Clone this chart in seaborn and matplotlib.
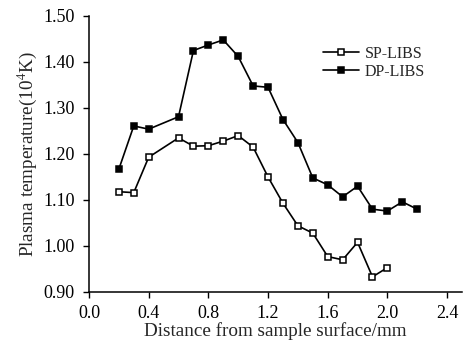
import matplotlib
matplotlib.use("Agg")
import matplotlib.pyplot as plt
import seaborn as sns
import pandas as pd

sp_x = [0.2, 0.3, 0.4, 0.6, 0.7, 0.8, 0.9, 1.0, 1.1, 1.2, 1.3, 1.4, 1.5, 1.6, 1.7, 1.8, 1.9, 2.0]
sp_y = [1.118, 1.116, 1.193, 1.235, 1.217, 1.218, 1.228, 1.240, 1.215, 1.150, 1.093, 1.044, 1.028, 0.977, 0.970, 1.008, 0.933, 0.953]
dp_x = [0.2, 0.3, 0.4, 0.6, 0.7, 0.8, 0.9, 1.0, 1.1, 1.2, 1.3, 1.4, 1.5, 1.6, 1.7, 1.8, 1.9, 2.0, 2.1, 2.2]
dp_y = [1.167, 1.261, 1.254, 1.281, 1.425, 1.437, 1.448, 1.412, 1.348, 1.345, 1.275, 1.225, 1.148, 1.133, 1.107, 1.130, 1.080, 1.076, 1.096, 1.080]
x_ticks = [0.0, 0.4, 0.8, 1.2, 1.6, 2.0, 2.4]
y_ticks = [0.90, 1.00, 1.10, 1.20, 1.30, 1.40, 1.50]

sns.set_style("ticks")
plt.rcParams['font.family'] = ['Liberation Serif', 'DejaVu Serif']
plt.rcParams['mathtext.fontset'] = 'stix'

df = pd.concat([
    pd.DataFrame({"x": sp_x, "y": sp_y, "s": "SP-LIBS"}),
    pd.DataFrame({"x": dp_x, "y": dp_y, "s": "DP-LIBS"}),
])

fig = plt.figure(figsize=(4.65, 3.46), dpi=100)
ax = fig.add_axes([89 / 465, 54 / 346, 373 / 465, 276 / 346])

sns.lineplot(data=df[df.s == "SP-LIBS"], x="x", y="y", ax=ax, color="black", lw=1.2,
             marker="s", markersize=4.6, markerfacecolor="white", markeredgecolor="black",
             markeredgewidth=1.1, label="SP-LIBS")
sns.lineplot(data=df[df.s == "DP-LIBS"], x="x", y="y", ax=ax, color="black", lw=1.2,
             marker="s", markersize=4.6, markerfacecolor="black", markeredgecolor="black",
             markeredgewidth=1.1, label="DP-LIBS")

ax.set_xlim(0, 2.5)
ax.set_ylim(0.90, 1.50)
ax.set_xticks(x_ticks)
ax.set_xticklabels([f"{v:.1f}" for v in x_ticks])
ax.set_yticks(y_ticks)
ax.set_yticklabels([f"{v:.2f}" for v in y_ticks])
ax.tick_params(labelsize=13, direction="out", length=4.5, width=1, colors="black")
ax.tick_params(axis="x", pad=5)
ax.tick_params(axis="y", pad=6)
for s in ["top", "right"]:
    ax.spines[s].set_visible(False)
for s in ["left", "bottom"]:
    ax.spines[s].set_linewidth(1.1)
    ax.spines[s].set_color("black")

ax.set_xlabel("Distance from sample surface/mm", fontsize=13.8, labelpad=0)
ax.set_ylabel("Plasma temperature(10$^4$K)", fontsize=13.8, labelpad=3)

leg = ax.legend(loc="upper left", bbox_to_anchor=(0.59, 0.945), frameon=False, fontsize=11.5,
                handlelength=2.2, handletextpad=0.4, labelspacing=0.15)

fig.savefig("out.png", dpi=100)
